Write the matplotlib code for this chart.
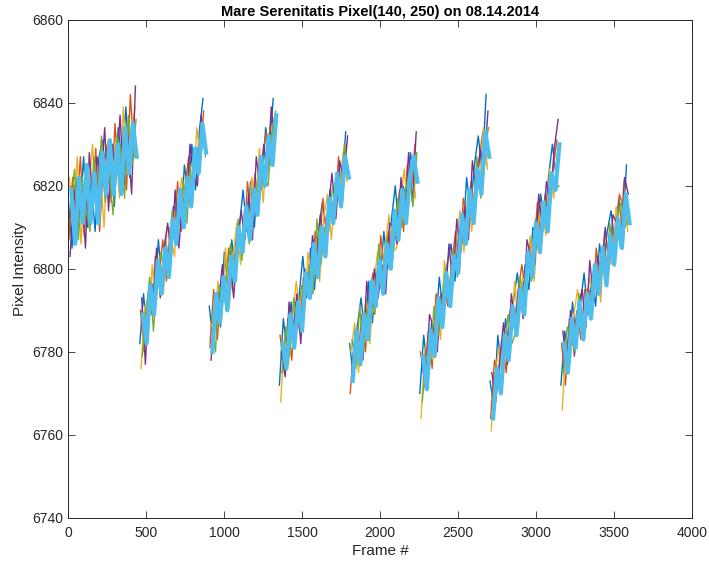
import numpy as np
import matplotlib
matplotlib.use("Agg")
import matplotlib.pyplot as plt

plt.rcParams['font.family'] = ['Liberation Sans', 'DejaVu Sans']

# frame ranges of the eight ramps
seg_start = [1, 460, 905, 1355, 1805, 2255, 2705, 3160]
seg_end = [440, 885, 1335, 1800, 2240, 2700, 3150, 3600]

# central level of each ramp, 18 samples per ramp
trend = [
    [6813, 6814, 6815, 6816, 6817, 6818, 6819, 6820, 6821, 6822, 6823, 6824, 6825, 6826, 6827, 6828, 6829, 6830],
    [6785, 6788, 6791, 6793, 6796, 6799, 6802, 6804, 6807, 6810, 6813, 6815, 6818, 6821, 6824, 6826, 6829, 6832],
    [6785, 6788, 6791, 6793, 6796, 6799, 6802, 6804, 6807, 6810, 6813, 6815, 6818, 6821, 6824, 6827, 6830, 6833],
    [6777, 6780, 6783, 6786, 6789, 6791, 6794, 6797, 6800, 6803, 6806, 6809, 6812, 6814, 6817, 6820, 6823, 6826],
    [6777, 6780, 6783, 6785, 6788, 6791, 6794, 6797, 6800, 6802, 6805, 6808, 6811, 6814, 6817, 6819, 6822, 6825],
    [6774, 6777, 6781, 6784, 6787, 6790, 6794, 6797, 6800, 6804, 6807, 6810, 6814, 6817, 6820, 6823, 6827, 6830],
    [6769, 6772, 6776, 6779, 6782, 6785, 6789, 6792, 6795, 6799, 6802, 6805, 6809, 6812, 6815, 6818, 6822, 6825],
    [6778, 6780, 6782, 6785, 6787, 6789, 6791, 6793, 6795, 6798, 6800, 6802, 6804, 6806, 6809, 6811, 6813, 6815],
]

# per-trace deviation from the ramp level (read from the spikes)
dev_blue = [
    [4, -9, 7, -3, 10, -8, 2, -11, 6, 9, -5, 3, -10, 8, -2, 11, -7, 5],
    [-3, 6, -7, 4, -2, 8, -6, 3, -8, 5, 1, -5, 7, -3, 6, -7, 4, 9],
    [6, -5, 2, -7, 8, -3, 5, -6, 3, 9, -4, 6, -8, 2, -5, 7, -2, 8],
    [-5, 8, -3, 6, -7, 2, 9, -4, 5, -8, 3, 7, -2, 5, -6, 4, -3, 7],
    [5, -6, 3, 8, -4, 6, -7, 2, -3, 7, -5, 4, 9, -6, 3, -2, 6, -4],
    [-4, 7, -6, 3, -2, 8, -5, 4, 6, -7, 2, -4, 8, -3, 5, 9, -4, 12],
    [4, -5, 8, -3, 6, -6, 3, 7, -4, 2, -7, 5, -1, 6, -5, 4, 8, -3],
    [-6, 5, -3, 7, -5, 2, 8, -4, 3, -7, 6, -2, 5, 8, -3, 6, -5, 10],
]
dev_orange = [
    [-6, 8, -2, 11, -9, 4, -5, 9, -12, 3, 7, -8, 10, -4, 6, -9, 13, -3],
    [5, -8, 2, -4, 7, -1, 5, -7, 3, -2, 8, -6, 2, 6, -8, 3, -4, 6],
    [-4, 7, -8, 3, -2, 6, -7, 4, 1, -6, 8, -3, 5, -7, 3, 6, -5, 2],
    [7, -4, 5, -8, 3, -6, 4, 1, -7, 6, -2, 8, -5, 3, -4, 7, -7, 4],
    [-7, 2, -5, 4, -8, 3, 5, -6, 8, -2, 4, -7, 1, 5, -8, 6, -3, 5],
    [6, -3, 4, -8, 7, -2, 3, -6, 1, 5, -8, 7, -2, 4, -7, 3, 6, -5],
    [-5, 6, -2, 4, -7, 5, -3, 2, 6, -5, 4, -2, 7, -6, 3, -4, 2, 6],
    [4, -8, 6, -2, 3, -6, 4, 2, -5, 7, -3, 5, -6, 3, -4, 7, 2, -4],
]
dev_yellow = [
    [9, -4, 12, -10, 5, 1, 11, -7, 3, -12, 8, -2, 6, -9, 12, -5, 2, 9],
    [-9, 3, -6, 8, -5, 2, -8, 6, 1, -7, 4, 7, -5, 2, -6, 8, -3, 2],
    [2, -3, 6, -5, 9, -8, 1, 7, -6, 4, -2, 7, -4, 8, -8, 1, 5, -6],
    [-9, 3, -6, 2, 8, -3, -6, 7, -2, 4, -9, 3, 6, -7, 2, -3, 5, -5],
    [3, 7, -8, 1, 5, -9, 2, 7, -5, 3, 8, -4, -6, 2, 7, -5, 4, -8],
    [-10, 4, 2, -6, 5, -7, 8, -3, -5, 3, 7, -6, 4, -8, 2, -4, 7, -6],
    [-8, 3, 5, -6, 2, -4, 8, -6, 3, -3, 6, -8, 2, 4, -7, 6, -5, 3],
    [-12, 2, -5, 4, 8, -3, -6, 5, -2, 3, -8, 7, -1, -5, 6, -2, 8, -6],
]
dev_purple = [
    [-10, 5, -7, 3, -12, 10, -4, 7, -1, 12, -9, 6, -3, 11, -8, 4, -11, 14],
    [8, -11, 5, -2, 9, -6, 3, 7, -4, 9, -8, 2, -3, 9, -2, -6, 8, -4],
    [-7, 4, 1, 8, -6, 3, -9, 2, 7, -3, 5, -8, 9, -1, 6, -4, 9, -3],
    [3, -6, 9, -2, 5, -9, 6, -3, 8, -1, 7, -4, 2, 9, -5, 6, -2, 6],
    [-3, 5, -2, -7, 9, -3, 6, -4, 1, -8, 6, 2, -5, 8, -4, 9, -6, 8],
    [4, -6, 8, 2, -7, 4, -3, 9, -4, 8, -3, 5, -7, 9, -2, 6, -3, 8],
    [6, -4, 2, 8, -5, 9, -2, 5, -7, 8, 1, -4, 9, -3, 6, -2, 7, 11],
    [7, -3, 8, -6, 4, 6, -5, 9, -3, 5, -1, 8, -4, 7, 2, -6, 9, 3],
]
dev_green = [
    [2, 10, -8, 6, -3, -9, 8, -2, 11, -6, 1, -11, 7, 3, -10, 9, -4, 6],
    [-6, 2, 7, -8, 3, 5, -3, -6, 7, -4, 2, 6, -7, 4, 1, -3, 6, -5],
    [4, -8, 5, -1, 3, 7, -4, 8, -5, 2, -7, 3, 1, 6, -2, -7, 3, 5],
    [-2, 6, -4, 7, -3, 5, -1, 4, -6, 9, -5, 1, -3, 6, 4, -5, 7, -2],
    [6, -4, 8, -5, 2, 1, -5, 9, -2, 5, -1, -3, 6, -4, 2, 4, -7, 3],
    [-6, 2, -4, 7, -3, 1, 6, -2, 4, -6, 5, -1, 3, -4, 7, -6, 2, 4],
    [-2, 5, -6, 1, 7, -3, -4, 6, -2, 4, -5, 7, -3, 2, -6, 5, -3, -5],
    [-3, 6, 1, -5, 7, -4, 3, -1, 6, -4, 2, -5, 7, -2, 4, 5, -3, -2],
]
dev_cyan = [
    [6, -8, 7, -5, 8, -7, 4, -9, 7, -4, 8, -6, 5, -8, 7, -5, 6, -3],
    [4, -6, 5, -4, 6, -5, 3, -6, 5, -4, 6, -5, 4, -6, 5, -3, 6, -4],
    [-5, 6, -4, 5, -6, 4, -5, 6, -3, 5, -6, 4, -5, 6, -4, 5, -5, 4],
    [5, -4, 6, -5, 3, -6, 5, -4, 6, -5, 4, -6, 5, -3, 6, -5, 4, -4],
    [-4, 5, -6, 4, -5, 6, -3, 5, -6, 4, -5, 6, -4, 5, -6, 3, 5, -4],
    [5, -6, 4, -5, 6, -4, 5, -6, 3, -5, 6, -4, 5, -6, 4, -5, 6, -3],
    [-5, 4, -6, 5, -4, 6, -5, 3, -6, 5, -4, 6, -5, 4, -6, 5, -3, 5],
    [4, -5, 6, -4, 5, -6, 3, -5, 6, -4, 5, -6, 4, -5, 3, -6, 5, -4],
]

traces = [dev_blue, dev_orange, dev_yellow, dev_purple, dev_green, dev_cyan]
colors = ['#0072BD', '#D95319', '#EDB120', '#7E2F8E', '#77AC30', '#4DBEEE']
widths = [1.0, 1.0, 1.0, 1.0, 1.0, 3.0]

fig = plt.figure(figsize=(7.09, 5.63), dpi=100)
ax = fig.add_axes([0.096, 0.080, 0.880, 0.885])

for k, (dev, col, lw) in enumerate(zip(traces, colors, widths)):
    for s in range(len(seg_start)):
        y = np.array(trend[s]) + np.array(dev[s])
        x = np.linspace(seg_start[s], seg_end[s] - 20, len(y)) + 4 * k
        ax.plot(x, y, color=col, lw=lw)

ax.set_xlim(0, 4000)
ax.set_ylim(6740, 6860)
ax.set_xticks(np.arange(0, 4001, 500))
ax.set_yticks(np.arange(6740, 6861, 20))

dark = '#262626'
for sp in ax.spines.values():
    sp.set_color(dark)
    sp.set_linewidth(0.7)
ax.tick_params(direction='in', top=True, right=True, length=5, width=0.6,
               colors=dark, labelsize=10, labelcolor=dark)
ax.tick_params(axis='x', pad=6)

ax.set_title('Mare Serenitatis Pixel(140, 250) on 08.14.2014', fontsize=10.5,
             fontweight='bold', color='black', pad=3)
ax.set_xlabel('Frame #', fontsize=11, color=dark, labelpad=3)
ax.set_ylabel('Pixel Intensity', fontsize=11, color=dark, labelpad=4)

fig.savefig('out.png', dpi=100)
